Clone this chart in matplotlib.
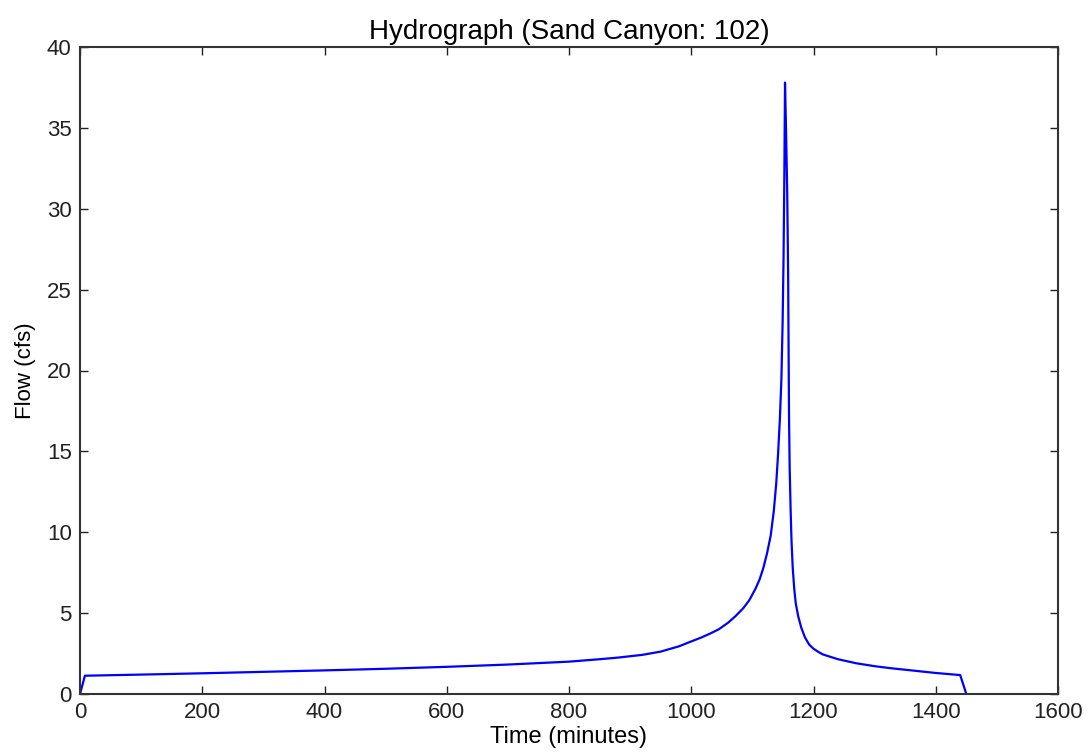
import matplotlib
matplotlib.use("Agg")
import matplotlib.pyplot as plt

# Data
time_min = [0, 8, 100, 200, 300, 400, 500, 600, 700, 800, 850, 880, 920, 950,
            980, 1000, 1015, 1030, 1045, 1060, 1072, 1085, 1095, 1105, 1112,
            1118, 1124, 1130, 1135, 1139, 1142, 1145, 1147.5, 1149.5, 1151,
            1152.3, 1153.4, 1155, 1157, 1158.5, 1159.3, 1160, 1161, 1162.5,
            1164, 1166, 1168.5, 1171, 1175, 1180, 1186, 1193, 1200, 1208, 1215,
            1240, 1270, 1300, 1325, 1350, 1400, 1440, 1450]
flow_cfs = [0, 1.13, 1.2, 1.28, 1.37, 1.46, 1.56, 1.68, 1.82, 2.0, 2.15, 2.25,
            2.42, 2.62, 2.95, 3.25, 3.47, 3.72, 4.0, 4.4, 4.8, 5.3, 5.8, 6.5,
            7.1, 7.8, 8.7, 9.8, 11.3, 13.0, 14.8, 17.0, 19.5, 23.0, 27.0, 32.0,
            37.8, 35.0, 31.0, 26.0, 21.0, 17.0, 14.0, 11.5, 9.5, 7.8, 6.5, 5.6,
            4.8, 4.1, 3.5, 3.05, 2.8, 2.6, 2.45, 2.15, 1.9, 1.72, 1.6, 1.5,
            1.3, 1.17, 0]

title = "Hydrograph (Sand Canyon: 102)"
xlabel = "Time (minutes)"
ylabel = "Flow (cfs)"
xticks = [0, 200, 400, 600, 800, 1000, 1200, 1400, 1600]
yticks = [0, 5, 10, 15, 20, 25, 30, 35, 40]

plt.rcParams['font.family'] = ['Liberation Sans', 'DejaVu Sans']

fig = plt.figure(figsize=(10.88, 7.56), dpi=100)
ax = fig.add_axes([80/1088, 62/756, 978/1088, 647/756])
ax.plot(time_min, flow_cfs, color='#0000ff', lw=1.6)
ax.set_xlim(0, 1600)
ax.set_ylim(0, 40)
ax.set_xticks(xticks)
ax.set_yticks(yticks)
ax.tick_params(direction='in', top=True, right=True, length=6, width=1,
               labelsize=16, colors='#222222', pad=6)
for s in ax.spines.values():
    s.set_linewidth(1.5)
    s.set_color('#333333')
ax.set_title(title, fontsize=20, pad=6)
ax.set_xlabel(xlabel, fontsize=17, labelpad=2)
ax.set_ylabel(ylabel, fontsize=16, labelpad=8)
fig.savefig("out.png", dpi=100)
